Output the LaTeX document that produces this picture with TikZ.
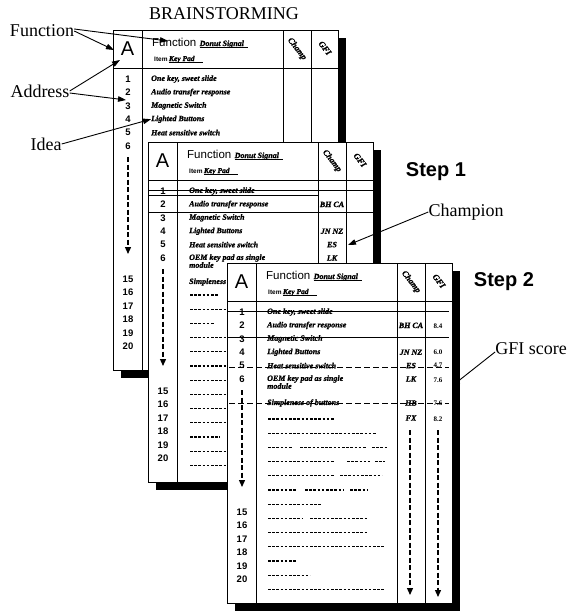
\documentclass[tikz,border=0pt]{standalone}
\usepackage{fontspec}
\setmainfont{Liberation Serif}
\setsansfont{Liberation Sans}
\newfontfamily\handfont{Liberation Serif}[FakeBold=1.2]
\usetikzlibrary{arrows.meta}
\newcommand\hw{\handfont\bfseries\itshape}
\tikzset{
 lbl/.style={font=\rmfamily\fontsize{18}{18}\selectfont, inner sep=0pt},
 steplbl/.style={font=\sffamily\bfseries\fontsize{20}{20}\selectfont, inner sep=0pt},
 ptr/.style={line width=0.9pt, -{Triangle[length=8pt,width=5.5pt]}},
 cardbox/.style={draw, fill=white, line width=1pt},
 gridline/.style={line width=0.9pt},
 num/.style={font=\sffamily\bfseries\fontsize{9.5}{9.5}\selectfont, inner sep=0pt},
 idea/.style={font=\hw\fontsize{8}{8}\selectfont, inner sep=0pt, anchor=west},
 champ/.style={font=\hw\fontsize{8}{8}\selectfont, inner sep=0pt},
 score/.style={font=\rmfamily\bfseries\fontsize{7}{7}\selectfont, inner sep=0pt},
 ph/.style={dash pattern=on 2.6pt off 1.6pt, line width=1.2pt},
 strike/.style={line width=1pt},
 dstrike/.style={line width=1pt, dash pattern=on 6pt off 3pt},
 vdash/.style={line width=1.3pt, dash pattern=on 5pt off 2.5pt, -{Triangle[length=7pt,width=6pt]}},
}
\newcommand\cardframe[1]{%
 \fill (8,8) rectangle (233,348);
 \draw[cardbox] (0,0) rectangle (225,340);
 \draw[gridline] (29,0) -- (29,340) (170,0) -- (170,340) (198,0) -- (198,340) (0,38) -- (225,38);
 \node[font=\sffamily\fontsize{20}{20}\selectfont, inner sep=0pt] (#1A) at (14.5,19) {A};
 \node[font=\sffamily\fontsize{11.5}{11.5}\selectfont, inner sep=0pt, anchor=base west] (#1fn) at (39,16) {Function};
 \node[font=\hw\fontsize{8}{8}\selectfont, inner sep=0pt, anchor=base west] (#1fv) at ([xshift=3pt]#1fn.base east) {Donut Signal};
 \draw[line width=0.9pt] ([yshift=-1.5pt]#1fv.base west) -- ([xshift=4pt,yshift=-1.5pt]#1fv.base east);
 \node[font=\sffamily\bfseries\fontsize{6.5}{6.5}\selectfont, inner sep=0pt, anchor=base west] (#1it) at (41,31) {Item};
 \node[font=\hw\fontsize{7.5}{7.5}\selectfont, inner sep=0pt, anchor=base west] (#1iv) at ([xshift=1pt]#1it.base east) {Key Pad};
 \draw[line width=0.9pt] ([yshift=-1.5pt]#1iv.base west) -- ([xshift=8pt,yshift=-1.5pt]#1iv.base east);
 \node[rotate=-52, font=\hw\fontsize{8.5}{8.5}\selectfont, inner sep=0pt] (#1ch) at (184,19) {Champ};
 \node[rotate=-52, font=\hw\fontsize{8.5}{8.5}\selectfont, inner sep=0pt] (#1gf) at (212,18) {GFI};
 \foreach \i in {1,...,6} {\node[num] (#1n\i) at (15,{49+13.4*(\i-1)}) {\i};}
 \foreach \k [count=\c from 0] in {15,...,20} {\node[num] (#1m\k) at (15,{249+13.5*\c}) {\k};}
 \coordinate (#1va) at (15,127);
 \coordinate (#1vb) at (15,224);
 \draw[vdash] (#1va) -- (#1vb);
}
\begin{document}
\begin{tikzpicture}[x=1pt,y=-1pt]
\useasboundingbox (0,0) rectangle (570,613);
\node[lbl] (title) at (224,14) {BRAINSTORMING};
% ---------------- card 1
\begin{scope}[shift={(113,30)}]
 \cardframe{a}
 \node[idea] (ai1) at (38,49) {One key, sweet slide};
 \node[idea] (ai2) at (38,62.4) {Audio transfer response};
 \node[idea] (ai3) at (38,75.8) {Magnetic Switch};
 \node[idea] (ai4) at (38,89.2) {Lighted Buttons};
 \node[idea] (ai5) at (38,102.6) {Heat sensitive switch};
 \coordinate (tA) at (1,20);
 \coordinate (tAd) at (7,30);
 \coordinate (tFn) at (55,11);
 \coordinate (tN3) at (13,70);
\end{scope}
\node[lbl] (lfun) at (42,31) {Function};
\node[lbl] (ladd) at (40,91) {Address};
\node[lbl] (lidea) at (46,144) {Idea};
\draw[ptr] (lfun.east) -- (tA);
\draw[ptr] ([yshift=2pt]lfun.east) -- (tFn);
\draw[ptr] (ladd.east) -- (tAd);
\draw[ptr] ([yshift=-2pt]ladd.east) -- (tN3);
\draw[ptr] (lidea.east) -- (ai4.west);
% ---------------- card 2
\begin{scope}[shift={(148,142)}]
 \cardframe{b}
 \node[idea] (bi1) at (41,49) {One key, sweet slide};
 \node[idea] (bi2) at (41,62.4) {Audio transfer response};
 \node[idea] (bi3) at (41,75.8) {Magnetic Switch};
 \node[idea] (bi4) at (41,89.2) {Lighted Buttons};
 \node[idea] (bi5) at (41,102.6) {Heat sensitive switch};
 \node[idea] (bi6) at (41,116) {OEM key pad as single};
 \node[idea] (bi6b) at (41,123) {module};
 \node[idea] (bi7) at (41,140) {Simpleness of buttons};
 \draw[strike] (0,48.5) -- (225,48.5);
 \draw[strike] (0,53) -- (170,53);
 \draw[strike] (0,70) -- (225,70);
 \node[champ] (bc2) at (184,62.4) {BH CA};
 \node[champ] (bc4) at (184,89.2) {JN NZ};
 \node[champ] (bc5) at (184,102.6) {ES};
 \node[champ] (bc6) at (184,116) {LK};
 \coordinate (tES) at (200,103);
 \foreach \k/\e in {0/70,1/100,2/66,3/100,4/100,5/100,6/100,7/100,8/100,9/100,10/72,11/100,12/100}
   {\draw[ph] (42,{153+14.2*\k}) -- (\e,{153+14.2*\k});}
\end{scope}
\node[steplbl] (s1) at (436,172) {Step 1};
\node[lbl] (lchamp) at (466,212) {Champion};
\draw[ptr] (lchamp.west) -- (tES);
% ---------------- card 3
\begin{scope}[shift={(227,263)}]
 \cardframe{c}
 \node[idea] (ci1) at (40,49) {One key, sweet slide};
 \node[idea] (ci2) at (40,62.4) {Audio transfer response};
 \node[idea] (ci3) at (40,75.8) {Magnetic Switch};
 \node[idea] (ci4) at (40,89.2) {Lighted Buttons};
 \node[idea] (ci5) at (40,102.6) {Heat sensitive switch};
 \node[idea] (ci6) at (40,116) {OEM key pad as single};
 \node[idea] (ci6b) at (40,123) {module};
 \node[idea] (ci7) at (40,140) {Simpleness of buttons};
 \node[champ] (cc2) at (184,62.4) {BH CA};
 \node[champ] (cc4) at (184,89.2) {JN NZ};
 \node[champ] (cc5) at (184,102.6) {ES};
 \node[champ] (cc6) at (184,116) {LK};
 \node[champ] (cc7) at (184,140) {HB};
 \node[champ] (cc8) at (184,155) {FX};
 \node[score] (cg2) at (211,63) {8.4};
 \node[score] (cg4) at (211,89.2) {6.0};
 \node[score] (cg5) at (211,102.6) {4.7};
 \node[score] (cg6) at (211,117) {7.6};
 \node[score] (cg7) at (211,140) {7.6};
 \node[score] (cg8) at (211,156) {8.2};
 \draw[strike] (0,48) -- (222,48);
 \draw[strike] (0,74) -- (222,74);
 \draw[dstrike] (2,104) -- (222,104);
 \draw[dstrike] (2,140) -- (222,140);
 \coordinate (cca) at (183,167);
 \coordinate (ccb) at (183,332);
 \coordinate (cga) at (211,167);
 \coordinate (cgb) at (211,334);
 \draw[vdash] (cca) -- (ccb);
 \draw[vdash] (cga) -- (cgb);
 \coordinate (tGFI) at (225,123);
 \foreach \k/\segs in {0/{41/108},1/{41/150},2/{41/65,73/140,145/161},3/{41/108,120/143,148/158},
   4/{41/108,113/155},5/{41/70,78/116,123/140},6/{41/95},7/{41/76,83/140},8/{41/140},
   9/{41/158},10/{41/70},11/{41/83},12/{41/158}}
   {\foreach \a/\b in \segs {\draw[ph] (\a,{156+14.2*\k}) -- (\b,{156+14.2*\k});}}
\end{scope}
\node[steplbl] (s2) at (504,282) {Step 2};
\node[lbl] (lgfi) at (531,349) {GFI score};
\draw[ptr] ([yshift=-3pt]lgfi.west) -- (tGFI);
\end{tikzpicture}
\end{document}
